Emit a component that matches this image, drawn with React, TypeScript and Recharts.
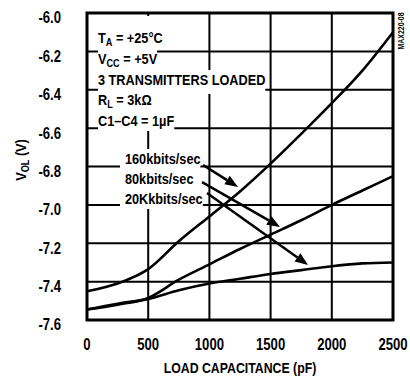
import {
  LineChart, Line, XAxis, YAxis, CartesianGrid, ReferenceArea, ReferenceLine
} from 'recharts'

const capacitance = [0, 250, 500, 750, 1000, 1250, 1500, 1750, 2000, 2250, 2500]
const v160k = [-7.45, -7.41, -7.335, -7.19, -7.06, -6.93, -6.785, -6.63, -6.47, -6.3, -6.1]
const v80k = [-7.545, -7.52, -7.485, -7.39, -7.31, -7.23, -7.155, -7.08, -7.0, -6.925, -6.85]
const v20k = [-7.545, -7.515, -7.49, -7.445, -7.41, -7.385, -7.36, -7.34, -7.32, -7.305, -7.3]

const xTicks = [0, 500, 1000, 1500, 2000, 2500]
const yTicks = [-7.6, -7.4, -7.2, -7.0, -6.8, -6.6, -6.4, -6.2, -6.0]

// label arrows: [from, to] in data units
const arrows = [
  [{ x: 948, y: -6.792 }, { x: 1234, y: -6.907 }],
  [{ x: 940, y: -6.881 }, { x: 1577, y: -7.115 }],
  [{ x: 980, y: -6.938 }, { x: 1806, y: -7.313 }],
]

const data = capacitance.map((c, i) => ({ c, a: v160k[i], b: v80k[i], d: v20k[i] }))

// no narrow font installed, so squeeze Liberation Sans horizontally
const FONT = "'Liberation Sans', Arial, sans-serif"
const SQ = 0.82

const Arrow = (props: any) => {
  const { x1, y1, x2, y2 } = props
  const ang = Math.atan2(y2 - y1, x2 - x1)
  const len = 13, hw = 5
  const bx = x2 - len * Math.cos(ang), by = y2 - len * Math.sin(ang)
  const px = -Math.sin(ang) * hw, py = Math.cos(ang) * hw
  return (
    <g>
      <line x1={x1} y1={y1} x2={bx} y2={by} stroke="#000" strokeWidth={2.5} />
      <polygon points={`${x2},${y2} ${bx + px},${by + py} ${bx - px},${by - py}`} fill="#000" />
    </g>
  )
}

const YTick = ({ x, y, payload }: any) => (
  <text transform={`translate(${x},${y + 5}) scale(${SQ},1)`} textAnchor="end" dominantBaseline="central"
    fontFamily={FONT} fontWeight="bold" fontSize={16} fill="#000">
    {payload.value.toFixed(1)}
  </text>
)

const XTick = ({ x, y, payload }: any) => (
  <text transform={`translate(${x},${y + 23}) scale(${SQ},1)`} textAnchor="middle" dominantBaseline="central"
    fontFamily={FONT} fontWeight="bold" fontSize={16} fill="#000">
    {payload.value}
  </text>
)

const Sub = ({ children }: { children: any }) => (
  <span style={{ fontSize: '0.72em', position: 'relative', top: 3 }}>{children}</span>
)

const row = (extra?: any) => ({
  background: '#fff', width: 'fit-content', whiteSpace: 'nowrap' as const, ...extra
})

const squeeze = (origin: string) => ({ transform: `scaleX(${SQ})`, transformOrigin: origin })

export default function App() {
  return (
    <div style={{ position: 'relative', width: 410, height: 378, background: '#fff', fontFamily: FONT, fontWeight: 'bold', color: '#000', overflow: 'hidden' }}>
      <style>{'body{margin:0}'}</style>
      <LineChart width={410} height={378} data={data} margin={{ top: 13, right: 17, bottom: 28, left: 27 }}>
        <CartesianGrid stroke="#000" strokeWidth={2} />
        <XAxis dataKey="c" type="number" domain={[0, 2500]} ticks={xTicks} height={30}
          axisLine={false} tickLine={false} tickSize={0} tick={<XTick />} interval={0} />
        <YAxis type="number" domain={[-7.6, -6.0]} ticks={yTicks} width={60}
          axisLine={false} tickLine={false} tickSize={0} tickMargin={26} tick={<YTick />} interval={0} />
        <ReferenceArea x1={0} x2={2500} y1={-7.6} y2={-6.0} fill="none" fillOpacity={0} stroke="#000" strokeWidth={3} />
        <Line dataKey="a" type="monotone" stroke="#000" strokeWidth={2.6} dot={false} isAnimationActive={false} />
        <Line dataKey="b" type="monotone" stroke="#000" strokeWidth={2.6} dot={false} isAnimationActive={false} />
        <Line dataKey="d" type="monotone" stroke="#000" strokeWidth={2.6} dot={false} isAnimationActive={false} />
        {arrows.map((s, i) => (
          <ReferenceLine key={i} segment={s} shape={<Arrow />} />
        ))}
      </LineChart>

      <div style={{ position: 'absolute', left: 98, top: 16, fontSize: 15.5, lineHeight: '20px', ...squeeze('left top') }}>
        <div style={row({ paddingTop: 12 })}>T<Sub>A</Sub> = +25°C</div>
        <div style={row()}>V<Sub>CC</Sub> = +5V</div>
        <div style={row({ paddingBottom: 4, marginBottom: -4 })}>3 TRANSMITTERS LOADED</div>
        <div style={row()}>R<Sub>L</Sub> = 3kΩ</div>
        <div style={row()}>C1–C4 = 1µF</div>
      </div>

      <div style={{ position: 'absolute', left: 120, top: 149, fontSize: 15.5, lineHeight: '20px', ...squeeze('left top') }}>
        <div style={row({ paddingLeft: 6 })}>160kbits/sec</div>
        <div style={row({ paddingLeft: 6 })}>80kbits/sec</div>
        <div style={row({ paddingLeft: 6 })}>20Kkbits/sec</div>
      </div>

      <div style={{ position: 'absolute', left: 0, width: 480, top: 358, fontSize: 15, lineHeight: '20px', textAlign: 'center', ...squeeze('240px 50%') }}>
        LOAD CAPACITANCE (pF)
      </div>

      <div style={{ position: 'absolute', left: 21, top: 160, fontSize: 15.5, lineHeight: '20px', whiteSpace: 'nowrap', transform: `translate(-50%, -50%) rotate(-90deg) scaleX(${SQ})` }}>
        V<Sub>OL</Sub> (V)
      </div>

      <div style={{ position: 'absolute', left: 401, top: 31, fontSize: 8.5, lineHeight: '10px', whiteSpace: 'nowrap', transform: `translate(-50%, -50%) rotate(-90deg) scaleX(${SQ})` }}>
        MAX220-08
      </div>
    </div>
  )
}
